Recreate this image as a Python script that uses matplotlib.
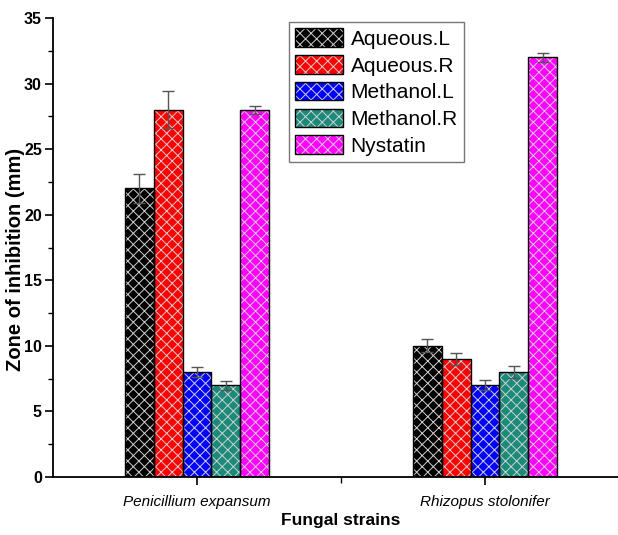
import matplotlib as mpl
import matplotlib.pyplot as plt
import numpy as np
from matplotlib.patches import Patch
from matplotlib.legend_handler import HandlerTuple

mpl.rcParams["font.family"] = ["Liberation Sans", "DejaVu Sans"]
mpl.rcParams["hatch.linewidth"] = 0.7

strains = ["Penicillium expansum", "Rhizopus stolonifer"]
extracts = ["Aqueous.L", "Aqueous.R", "Methanol.L", "Methanol.R", "Nystatin"]
values = {
    "Aqueous.L": [22, 10],
    "Aqueous.R": [28, 9],
    "Methanol.L": [8, 7],
    "Methanol.R": [7, 8],
    "Nystatin": [28, 32],
}
errors = {
    "Aqueous.L": [1.1, 0.5],
    "Aqueous.R": [1.4, 0.45],
    "Methanol.L": [0.4, 0.4],
    "Methanol.R": [0.35, 0.45],
    "Nystatin": [0.3, 0.35],
}
colors = ["#000000", "#ff0000", "#0000ff", "#1a8a7a", "#ff00ff"]

BAR_W = 0.1
HATCH = "xxx"
HATCH_COLOR = "#d0d0d0"

fig = plt.figure(figsize=(6.18, 5.35), dpi=100)
ax = fig.add_axes([53 / 618, 58 / 535, 576 / 618, 459 / 535])

x = np.arange(1, len(strains) + 1)
for i, (name, color) in enumerate(zip(extracts, colors)):
    pos = x + (i - 2) * BAR_W
    # fill + light hatch, then black outline on top
    ax.bar(pos, values[name], BAR_W, color=color, edgecolor=HATCH_COLOR,
           hatch=HATCH, linewidth=0, zorder=2)
    ax.bar(pos, values[name], BAR_W, fill=False, edgecolor="black",
           linewidth=1.0, zorder=3)
    ax.errorbar(pos, values[name], yerr=errors[name], fmt="none",
                ecolor="#555555", elinewidth=1.0, capsize=4, capthick=1.0, zorder=4)

ax.set_xlim(0.5, 2.5)
ax.set_ylim(0, 35)
ax.set_xticks(x)
ax.set_xticklabels(strains, style="italic", fontsize=11)
ax.set_xticks([1.5], minor=True)
ax.set_yticks(np.arange(0, 36, 5))
ax.set_yticks(np.arange(2.5, 35, 5), minor=True)
ax.tick_params(axis="y", which="major", length=6, width=1.2, labelsize=11.5, pad=2)
ax.tick_params(axis="y", which="minor", length=3.5, width=1.0)
ax.tick_params(axis="x", which="major", length=6, width=1.2, pad=7)
ax.tick_params(axis="x", which="minor", length=4, width=1.0)
for lab in ax.get_yticklabels():
    lab.set_fontweight("bold")

for s in ["top", "right"]:
    ax.spines[s].set_visible(False)
ax.spines["left"].set_linewidth(1.3)
ax.spines["bottom"].set_linewidth(1.3)

ax.set_ylabel("Zone of inhibition (mm)", fontsize=14.5, fontweight="bold")
ax.yaxis.set_label_coords(-0.048, 0.473)
ax.set_xlabel("Fungal strains", fontsize=12.5, fontweight="bold", labelpad=3)

handles = [(Patch(facecolor=c, edgecolor=HATCH_COLOR, hatch=HATCH, linewidth=0),
            Patch(fill=False, edgecolor="black", linewidth=1.0)) for c in colors]
leg = ax.legend(handles, extracts, loc="upper left", bbox_to_anchor=(0.41, 0.991),
                handler_map={tuple: HandlerTuple(ndivide=1, pad=0)},
                fontsize=15, frameon=True, fancybox=False, edgecolor="#555555",
                handlelength=2.3, handleheight=1.0, labelspacing=0.3,
                handletextpad=0.35, borderpad=0.3, borderaxespad=0)
leg.get_frame().set_linewidth(1.0)

plt.savefig("out.png", dpi=100)
